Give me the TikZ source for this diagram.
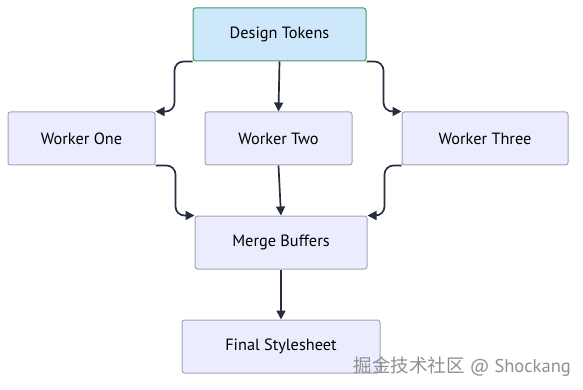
\documentclass[tikz,border=0pt]{standalone}
\usepackage{fontspec}
\setmainfont{PT Sans}
\newfontfamily\cjkfont{Noto Sans CJK SC}
\usetikzlibrary{arrows.meta}
\definecolor{nodefill}{HTML}{ECECFF}
\definecolor{nodeline}{HTML}{A3A3B8}
\definecolor{topfill}{HTML}{CDE8FB}
\definecolor{topline}{HTML}{3D9B6E}
\definecolor{edgecol}{HTML}{262E3D}
\definecolor{wmcol}{HTML}{8F8F8F}
\begin{document}
\begin{tikzpicture}[x=1pt,y=-1pt,
  box/.style={draw=nodeline,fill=nodefill,line width=1pt,rounded corners=2.5pt,inner sep=0pt,font=\fontsize{16.3}{19}\selectfont},
  topbox/.style={box,draw=topline,fill=topfill},
  edge/.style={draw=edgecol,line width=1.7pt,rounded corners=9pt,-{Triangle[length=9pt,width=9pt]}}]
\useasboundingbox (0,0) rectangle (583,390);
\node[topbox,minimum width=173pt,minimum height=53pt] (dt) at (279.5,34.5) {Design Tokens};
\node[box,minimum width=147pt,minimum height=53pt] (w1) at (81.5,138.5) {Worker One};
\node[box,minimum width=147pt,minimum height=53pt] (w2) at (278.5,138.5) {Worker Two};
\node[box,minimum width=166pt,minimum height=53pt] (w3) at (485,138.5) {Worker Three};
\node[box,minimum width=172pt,minimum height=53pt] (mb) at (281,242.5) {Merge Buffers};
\node[box,minimum width=198pt,minimum height=53pt] (fs) at (281,346.5) {Final Stylesheet};
\node[text=wmcol,font=\fontsize{18.5}{22}\selectfont,anchor=east,inner sep=0pt] (wm) at (571,367) {{\cjkfont 掘金技术社区} @ Shockang};
\draw[edge] (dt.south west) -- ++(-18,0) |- (w1.north east);
\draw[edge] (dt.south) -- (w2.north);
\draw[edge] (dt.south east) -- ++(17,0) |- (w3.north west);
\draw[edge] (w1.south east) -- ++(20,0) |- (mb.north west);
\draw[edge] (w2.south) -- (mb.north);
\draw[edge] (w3.south west) -- ++(-17,0) |- (mb.north east);
\draw[edge] (mb.south) -- (fs.north);
\end{tikzpicture}
\end{document}
